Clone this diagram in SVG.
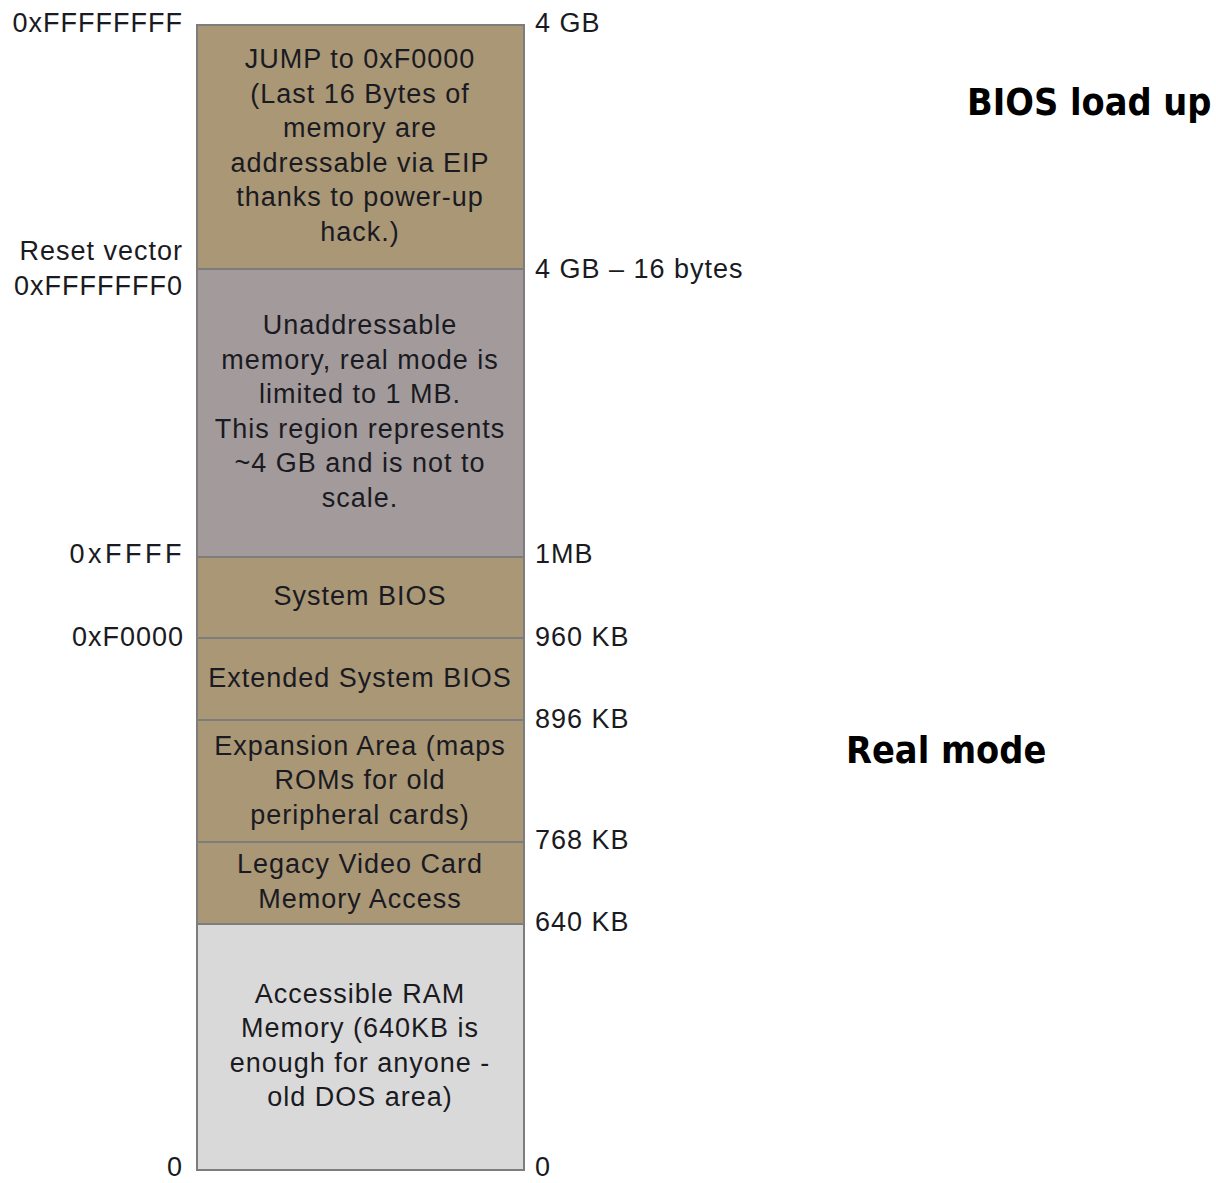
<svg xmlns="http://www.w3.org/2000/svg" width="1216" height="1183" viewBox="0 0 1216 1183">
<style>
.t{font-family:"Liberation Sans",Arial,sans-serif;font-size:27px;letter-spacing:1px;fill:#1a1a22}
.c{text-anchor:middle}
.r{text-anchor:end}
.b{font-family:"DejaVu Sans Condensed","DejaVu Sans",sans-serif;font-weight:bold;font-size:37.5px;fill:#000}
.tan{fill:#a99776;stroke:#7d7d7d;stroke-width:2}
.gp{fill:#a39a9b;stroke:#7d7d7d;stroke-width:2}
.lg{fill:#d9d9d9;stroke:#7d7d7d;stroke-width:2}
</style>
<rect x="0" y="0" width="1216" height="1183" fill="#fff"/>
<g id="jump">
<rect class="tan" x="197" y="25" width="327" height="244"/>
<text class="t c" x="360" y="68">JUMP to 0xF0000</text>
<text class="t c" x="360" y="103">(Last 16 Bytes of</text>
<text class="t c" x="360" y="137">memory are</text>
<text class="t c" x="360" y="172">addressable via EIP</text>
<text class="t c" x="360" y="206">thanks to power-up</text>
<text class="t c" x="360" y="241">hack.)</text>
</g>
<g id="unaddressable">
<rect class="gp" x="197" y="269" width="327" height="288"/>
<text class="t c" x="360" y="334">Unaddressable</text>
<text class="t c" x="360" y="369">memory, real mode is</text>
<text class="t c" x="360" y="403">limited to 1 MB.</text>
<text class="t c" x="360" y="438">This region represents</text>
<text class="t c" x="360" y="472">~4 GB and is not to</text>
<text class="t c" x="360" y="507">scale.</text>
</g>
<g id="sysbios">
<rect class="tan" x="197" y="557" width="327" height="81"/>
<text class="t c" x="360" y="605">System BIOS</text>
</g>
<g id="extbios">
<rect class="tan" x="197" y="638" width="327" height="82"/>
<text class="t c" x="360" y="687">Extended System BIOS</text>
</g>
<g id="expansion">
<rect class="tan" x="197" y="720" width="327" height="122"/>
<text class="t c" x="360" y="755">Expansion Area (maps</text>
<text class="t c" x="360" y="789">ROMs for old</text>
<text class="t c" x="360" y="824">peripheral cards)</text>
</g>
<g id="video">
<rect class="tan" x="197" y="842" width="327" height="82"/>
<text class="t c" x="360" y="873">Legacy Video Card</text>
<text class="t c" x="360" y="908">Memory Access</text>
</g>
<g id="ram">
<rect class="lg" x="197" y="924" width="327" height="246"/>
<text class="t c" x="360" y="1003">Accessible RAM</text>
<text class="t c" x="360" y="1037">Memory (640KB is</text>
<text class="t c" x="360" y="1072">enough for anyone -</text>
<text class="t c" x="360" y="1106">old DOS area)</text>
</g>
<g id="connectors"></g>
<g id="left-labels">
<text class="t r" x="183" y="32">0xFFFFFFFF</text>
<text class="t r" x="183" y="260">Reset vector</text>
<text class="t r" x="183" y="295">0xFFFFFFF0</text>
<text class="t r" x="185" y="563" style="letter-spacing:3.5px">0xFFFF</text>
<text class="t r" x="184" y="646">0xF0000</text>
<text class="t r" x="183" y="1176">0</text>
</g>
<g id="right-labels">
<text class="t" x="535" y="32">4 GB</text>
<text class="t" x="535" y="278">4 GB – 16 bytes</text>
<text class="t" x="535" y="563">1MB</text>
<text class="t" x="535" y="646">960 KB</text>
<text class="t" x="535" y="728">896 KB</text>
<text class="t" x="535" y="849">768 KB</text>
<text class="t" x="535" y="931">640 KB</text>
<text class="t" x="535" y="1176">0</text>
</g>
<g id="titles">
<text class="b" x="967" y="115">BIOS load up</text>
<text class="b" x="846" y="763">Real mode</text>
</g>
</svg>
